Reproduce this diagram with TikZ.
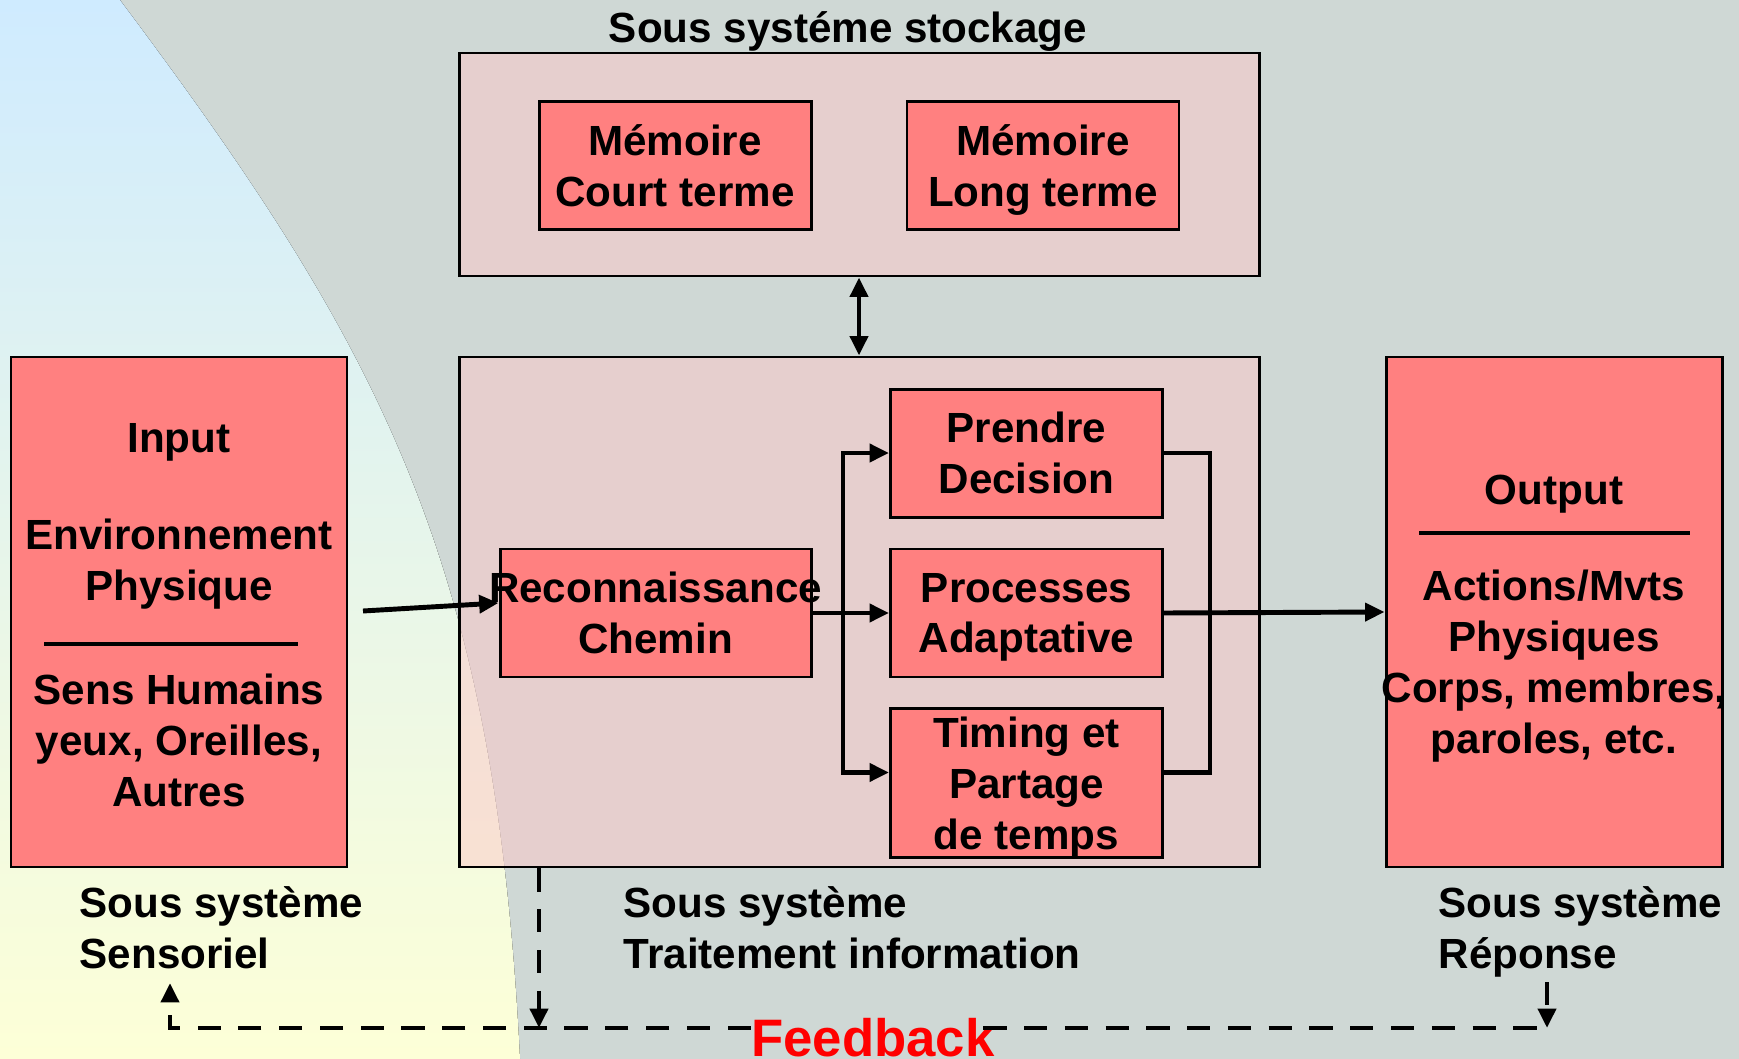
\documentclass[tikz,border=0pt]{standalone}
\usepackage{fontspec}
\setmainfont{Liberation Sans}
\usetikzlibrary{arrows.meta,positioning,calc}

\definecolor{bggray}{HTML}{CFD8D5}
\definecolor{skytop}{HTML}{CFEBFF}
\definecolor{palemid}{HTML}{EDF8F2}
\definecolor{sandbot}{HTML}{FDFFD7}
\definecolor{salmon}{HTML}{FF8080}
\definecolor{blush}{HTML}{FDC8C9}

\begin{document}
\begin{tikzpicture}[
  x=0.1mm, y=-0.1mm,
  >={Triangle[length=5.5pt,width=5pt]},
  txt/.style={font=\bfseries\fontsize{12}{14.5}\selectfont, align=center, inner sep=0pt, text depth=0pt, execute at begin node={\rule{0pt}{12pt}}},
  box/.style={draw, line width=0.85pt, fill=salmon, txt, minimum width=27.2mm, minimum height=12.8mm},
  container/.style={draw, line width=0.85pt, fill=blush, fill opacity=0.5, minimum width=80mm},
  bigbox/.style={draw, line width=0.85pt, fill=salmon, minimum width=33.6mm, minimum height=51mm},
  lbl/.style={txt, align=left, anchor=west},
  arrow/.style={line width=1.4pt},
  divider/.style={line width=1.3pt},
  fbline/.style={line width=1.4pt, dash pattern=on 6.6pt off 5pt}
]
% fond
\fill[bggray] (0,0) rectangle (1739,1059);
\fill[top color=skytop, middle color=palemid, bottom color=sandbot] (0,0) -- (120,0) .. controls (382,350) and (495,559) .. (520,1059) -- (0,1059) -- cycle;
\useasboundingbox (0,0) rectangle (1739,1059);

% stockage
\node[txt] (titre) at (848,21) {Sous systéme stockage};
\node[container, minimum height=22.3mm] (stock) at (859,164.5) {};
\node[box] (mct) at (675,165.5) {Mémoire\\Court terme};
\node[box, right=9.3mm of mct] (mlt) {Mémoire\\Long terme};

% traitement
\node[container, minimum height=51mm] (trait) at (859,612) {};
\node[box, minimum width=31.1mm] (recon) at (655.5,613) {\makebox[0pt]{Reconnaissance}\\Chemin};
\node[box] (adapt) at (1026.5,613) {Processes\\Adaptative};
\node[box, above=2.9mm of adapt] (dec) {Prendre\\Decision};
\node[box, below=2.9mm of adapt, minimum height=14.9mm] (timing) {Timing et\\Partage\\de temps};

% entree
\node[bigbox] (inp) at (179,612) {};
\node[txt] (inpT) at (179,431) {Input};
\node[txt] (inpE) at (179,560) {Environnement\\Physique};
\node[txt] (inpS) at (179,740) {Sens Humains\\yeux, Oreilles,\\Autres};
\coordinate (inpRa) at (44,644);
\coordinate (inpRb) at (298,644);
\draw[divider] (inpRa) -- (inpRb);

% sortie
\node[bigbox] (outp) at (1554,612) {};
\node[txt] (outT) at (1554,483) {Output};
\node[txt] (outA) at (1554,662) {Actions/Mvts\\Physiques\\Corps, membres,\\paroles, etc.};
\coordinate (outRa) at (1419,533);
\coordinate (outRb) at (1690,533);
\draw[divider] (outRa) -- (outRb);

% legendes
\node[lbl] (sens) at (79,928) {Sous système\\Sensoriel};
\node[lbl] (traitL) at (623,928) {Sous système\\Traitement information};
\node[lbl] (repL) at (1438,928) {Sous système\\Réponse};

% connecteurs
\draw[arrow,<->] (stock.south) -- (trait.north);
\coordinate (inStart) at (363,611);
\draw[arrow,->] (inStart) -- ([yshift=1mm]recon.west);
\draw[arrow,->] (recon.east) -- (adapt.west);
\coordinate (split) at (843,612);
\draw[arrow,->] (split) |- (dec.west);
\draw[arrow,->] (split) |- ([yshift=1.1mm]timing.west);
\coordinate (merge) at (1210,612);
\draw[arrow] (dec.east) -| (merge) |- ([yshift=1.1mm]timing.east);
\draw[arrow,->] (adapt.east) -- (outp.west);

% feedback
\node[font=\bfseries\fontsize{15}{18}\selectfont, text=red, inner sep=0pt, anchor=base] (fb) at (873,1056) {Feedback};
\coordinate (fbL) at (170,1028);
\coordinate (fbR) at (1547,1028);
\coordinate (fbD) at (539,1028);
\coordinate (fbUp) at (170,983);
\coordinate (fbTop) at (1547,982);
\coordinate (fbE) at ([xshift=-1.2mm]fb.east);
\draw[fbline,->] (fbD |- trait.south) -- (fbD);
\draw[fbline,->] (fb.west |- fbL) -- (fbL) -- (fbUp);
\draw[fbline] (fbE |- fbR) -- (fbR);
\draw[fbline,->] (fbTop) -- (fbR);
\end{tikzpicture}
\end{document}
